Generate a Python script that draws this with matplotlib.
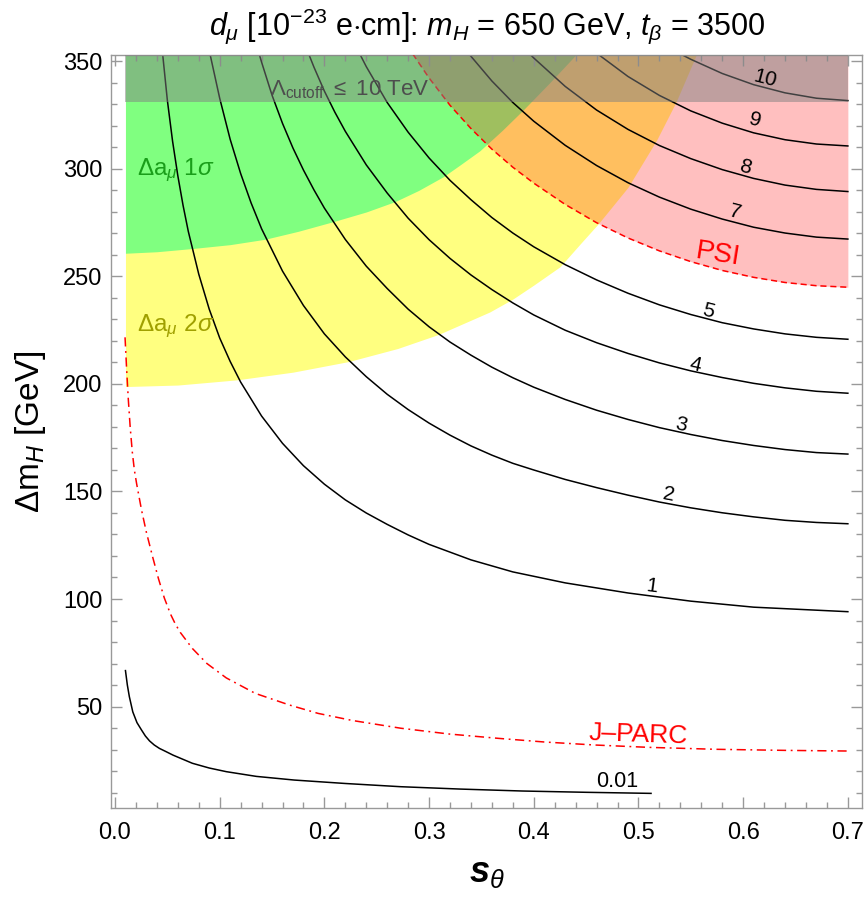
import numpy as np
import matplotlib
matplotlib.use("Agg")
import matplotlib.pyplot as plt
from matplotlib.ticker import MultipleLocator

plt.rcParams['font.family'] = ['Liberation Sans', 'DejaVu Sans']
plt.rcParams['mathtext.fontset'] = 'custom'
plt.rcParams['mathtext.rm'] = 'Liberation Sans'
plt.rcParams['mathtext.it'] = 'Liberation Sans:italic'
plt.rcParams['mathtext.bf'] = 'Liberation Sans:italic:bold'

# d_mu contours [1e-23 e cm] traced in the (s_theta, Delta m_H) plane
d001_x = [0.0100, 0.0118, 0.0137, 0.017, 0.021, 0.0253, 0.029, 0.033, 0.0375, 0.0425, 0.048,
          0.0554, 0.0739, 0.09, 0.1063, 0.135, 0.1712, 0.22, 0.273, 0.33, 0.389, 0.45, 0.512]
d001_y = [66.7, 60.0, 54.6, 47.5, 42.5, 39.1, 36.3, 34.0, 32.1, 30.5, 29.2,
          27.4, 23.6, 21.4, 19.7, 17.5, 15.8, 14.2, 12.7, 11.6, 10.7, 10.1, 9.6]
d1_x = [0.0455, 0.05, 0.055, 0.06, 0.065, 0.07, 0.08, 0.09, 0.10, 0.11, 0.12, 0.14, 0.16, 0.18,
        0.20, 0.22, 0.24, 0.26, 0.28, 0.30, 0.34, 0.38, 0.43, 0.49, 0.55, 0.61, 0.70]
d1_y = [353.5, 332.0, 312.9, 296.9, 283.1, 271.0, 251.1, 234.8, 221.4, 210.5, 200.9, 185.1, 172.4, 162.0,
        153.4, 146.1, 140.0, 134.7, 129.8, 125.4, 118.2, 112.6, 107.5, 102.8, 99.0, 96.2, 94.1]
d2_x = [0.0905, 0.10, 0.11, 0.12, 0.13, 0.14, 0.16, 0.18, 0.20, 0.22, 0.24, 0.26, 0.28, 0.30, 0.32,
        0.34, 0.36, 0.38, 0.40, 0.43, 0.46, 0.49, 0.52, 0.55, 0.58, 0.61, 0.64, 0.67, 0.70]
d2_y = [354.0, 332.9, 313.8, 297.9, 284.2, 272.2, 252.5, 236.5, 223.3, 212.6, 203.4, 195.2, 188.1, 181.8, 176.2,
        171.2, 166.9, 163.1, 160.0, 155.6, 151.8, 148.3, 145.1, 142.4, 140.1, 138.2, 136.6, 135.6, 135.0]
d3_x = [0.1377, 0.14, 0.15, 0.16, 0.17, 0.18, 0.19, 0.20, 0.22, 0.24, 0.26, 0.28, 0.30, 0.32,
        0.34, 0.36, 0.38, 0.40, 0.43, 0.46, 0.49, 0.52, 0.55, 0.58, 0.61, 0.64, 0.67, 0.70]
d3_y = [353.5, 349.7, 334.3, 321.2, 309.7, 299.5, 290.3, 281.8, 267.2, 254.8, 244.4, 234.8, 226.6, 219.5,
        213.4, 207.8, 202.9, 198.5, 192.8, 187.8, 183.5, 179.7, 176.5, 173.7, 171.4, 169.5, 168.1, 167.4]
d4_x = [0.185, 0.19, 0.20, 0.21, 0.22, 0.24, 0.26, 0.28, 0.30, 0.32, 0.34, 0.36,
        0.38, 0.40, 0.43, 0.46, 0.49, 0.52, 0.55, 0.58, 0.61, 0.64, 0.67, 0.70]
d4_y = [353.5, 347.4, 336.2, 326.4, 317.5, 301.9, 288.8, 277.1, 267.1, 258.4, 250.7, 243.9,
        237.7, 232.1, 225.0, 219.2, 214.2, 209.8, 206.1, 203.0, 200.3, 198.2, 196.6, 195.7]
d5_x = [0.2338, 0.24, 0.26, 0.28, 0.30, 0.32, 0.34, 0.36, 0.38, 0.40,
        0.43, 0.46, 0.49, 0.52, 0.55, 0.58, 0.61, 0.64, 0.67, 0.70]
d5_y = [353.5, 347.6, 330.9, 317.1, 305.1, 294.7, 285.7, 277.4, 270.2, 263.8,
        255.5, 248.4, 242.2, 236.8, 232.3, 228.5, 225.6, 223.3, 221.7, 220.8]
d7_x = [0.338, 0.34, 0.36, 0.38, 0.40, 0.43, 0.46, 0.49, 0.52, 0.55, 0.58, 0.61, 0.64, 0.67, 0.70]
d7_y = [353.5, 352.4, 340.9, 330.9, 322.2, 311.0, 301.6, 293.6, 286.9, 281.3, 276.7, 272.9, 270.2, 268.3, 267.4]
d8_x = [0.396, 0.40, 0.43, 0.46, 0.49, 0.52, 0.55, 0.58, 0.61, 0.64, 0.67, 0.70]
d8_y = [353.5, 351.6, 338.4, 327.4, 318.4, 310.9, 304.8, 299.7, 295.6, 292.5, 290.5, 289.5]
d9_x = [0.461, 0.49, 0.52, 0.55, 0.58, 0.61, 0.64, 0.67, 0.70]
d9_y = [353.5, 343.0, 334.2, 327.0, 321.3, 316.8, 313.6, 311.6, 310.7]
d10_x = [0.540, 0.55, 0.58, 0.61, 0.64, 0.67, 0.70]
d10_y = [353.5, 351.0, 344.4, 339.2, 335.4, 332.9, 331.8]

# experimental sensitivities
psi_x = [0.2844, 0.30, 0.32, 0.34, 0.36, 0.38, 0.40, 0.43, 0.46, 0.49,
         0.52, 0.55, 0.58, 0.61, 0.64, 0.67, 0.70]
psi_y = [353.5, 342.3, 329.6, 318.8, 309.2, 300.8, 293.4, 283.5, 275.0, 267.9,
         261.9, 256.9, 252.8, 249.6, 247.2, 245.7, 245.0]
jparc_x = [0.0096, 0.0111, 0.0127, 0.0145, 0.0165, 0.0185, 0.0207, 0.0253, 0.030, 0.036, 0.0415,
           0.0471, 0.053, 0.0575, 0.0623, 0.0739, 0.0878, 0.1063, 0.134, 0.1666, 0.194, 0.2267,
           0.273, 0.3193, 0.366, 0.41, 0.458, 0.51, 0.574, 0.64, 0.70]
jparc_y = [221.7, 207.0, 193.0, 180.0, 168.5, 160.0, 153.5, 141.5, 131.0, 119.5, 109.5,
           100.5, 93.0, 88.5, 84.5, 77.0, 70.0, 63.3, 56.1, 50.7, 46.8, 43.5,
           39.9, 37.2, 35.2, 33.5, 32.1, 31.0, 30.1, 29.6, 29.3]

# lower edges of the Delta a_mu bands and the cutoff band
sig2_x = [0.01, 0.06, 0.1162, 0.17, 0.2229, 0.27, 0.3088, 0.358, 0.38, 0.40, 0.425, 0.445,
          0.4616, 0.49, 0.5174, 0.536, 0.5556]
sig2_y = [198.8, 199.5, 201.9, 205.5, 210.4, 216.5, 223.0, 233.5, 239.5, 246.0, 254.5, 265.5,
          274.5, 291.5, 313.5, 331.3, 353.5]
sig1_x = [0.01, 0.04, 0.074, 0.11, 0.1433, 0.175, 0.2085, 0.24, 0.2674, 0.29, 0.3136, 0.33,
          0.3486, 0.37, 0.39, 0.415, 0.441]
sig1_y = [260.8, 261.5, 263.0, 264.8, 267.3, 271.0, 275.5, 280.0, 284.8, 290.0, 296.4, 302.0,
          308.5, 318.0, 327.5, 340.0, 353.5]
cutoff_y = 331.3

contours = [(d001_x, d001_y, '0.01', 0.480, 15.0),
            (d1_x, d1_y, '1', 0.513, 106.0),
            (d2_x, d2_y, '2', 0.5286, 148.4),
            (d3_x, d3_y, '3', 0.541, 181.0),
            (d4_x, d4_y, '4', 0.554, 208.8),
            (d5_x, d5_y, '5', 0.567, 234.0),
            (d7_x, d7_y, '7', 0.592, 279.8),
            (d8_x, d8_y, '8', 0.602, 301.0),
            (d9_x, d9_y, '9', 0.611, 322.5),
            (d10_x, d10_y, '10', 0.621, 342.2)]

W, H = 867, 897
fig = plt.figure(figsize=(W / 100, H / 100), dpi=100)
ax = fig.add_axes([110.7 / W, 1 - 808 / H, (862 - 110.7) / W, (808 - 55) / H])
ax.set_xlim(-0.0041, 0.7135)
ax.set_ylim(2.8, 353.0)
top = 360

ax.fill_between(sig2_x, sig2_y, top, color='#ffff80', lw=0, zorder=1)
ax.fill_between(sig1_x, sig1_y, top, color='#80ff80', lw=0, zorder=1.1)
ax.fill_between(psi_x, psi_y, top, color=(1, 0, 0, 0.25), lw=0, zorder=1.2)

for xs, ys, lab, lx, ly in contours:
    ax.plot(xs, ys, color='black', lw=1.1, zorder=2)

ax.plot(psi_x, psi_y, color='red', lw=1.1, dashes=(4, 2.5), zorder=3)
ax.plot(jparc_x, jparc_y, color='red', lw=1.1, dashes=(6, 3, 1.2, 3), zorder=3)

ax.fill_between([0.01, 0.70], cutoff_y, top, color=(0.5, 0.5, 0.5, 0.5), lw=0, zorder=4)


def slope_angle(xs, ys, x0):
    xx = np.array([x0 - 0.01, x0 + 0.01])
    pts = ax.transData.transform(np.column_stack([xx, np.interp(xx, xs, ys)]))
    d = pts[1] - pts[0]
    return np.degrees(np.arctan2(d[1], d[0]))


for xs, ys, lab, lx, ly in contours:
    rot = 0 if lab == '0.01' else slope_angle(xs, ys, lx)
    ax.text(lx, ly, lab, fontsize=15.5 if lab == '0.01' else 15, rotation=rot,
            rotation_mode='anchor', ha='center', va='center', zorder=5)

ax.text(0.0207, 299.5, r'$\Delta$a$_\mu$ 1$\sigma$', color='#1a9e1a', fontsize=17.5,
        ha='left', va='center', zorder=5)
ax.text(0.0207, 226.7, r'$\Delta$a$_\mu$ 2$\sigma$', color='#a0a000', fontsize=17.5,
        ha='left', va='center', zorder=5)
ax.text(0.2245, 337.0, r'$\Lambda_{\rm cutoff}$ $\leq$ 10 TeV', color='#4d4d4d', fontsize=16,
        ha='center', va='center', zorder=5)
ax.text(0.576, 260.0, 'PSI', color='red', fontsize=20, rotation=-9,
        ha='center', va='center', zorder=5)
ax.text(0.50, 36.7, 'J\u2013PARC', color='red', fontsize=19, rotation=-2,
        ha='center', va='center', zorder=5)

ax.xaxis.set_major_locator(MultipleLocator(0.1))
ax.xaxis.set_minor_locator(MultipleLocator(0.02))
ax.yaxis.set_major_locator(MultipleLocator(50))
ax.yaxis.set_minor_locator(MultipleLocator(10))
ax.tick_params(which='both', direction='in', top=True, right=True, color='#999999', width=1)
ax.tick_params(which='major', length=8, labelsize=17, pad=10)
ax.tick_params(which='minor', length=4.5)
ax.tick_params(axis='y', which='major', pad=6)
for sp in ax.spines.values():
    sp.set_color('#999999')
    sp.set_linewidth(1)

fig.text(487.5 / W, 1 - 35 / H, r'$d_\mu$ [10$^{-23}$ e$\cdot$cm]: $m_H$ = 650 GeV, $t_\beta$ = 3500',
         fontsize=22, ha='center', va='baseline')
fig.text(30 / W, 1 - 432 / H, r'$\Delta$m$_H$ [GeV]', fontsize=24, rotation=90,
         ha='center', va='center')
fig.text(487 / W, 1 - 872 / H, r'$\mathbf{s}_\theta$', fontsize=26, ha='center', va='center')

fig.savefig('out.png', dpi=100)
